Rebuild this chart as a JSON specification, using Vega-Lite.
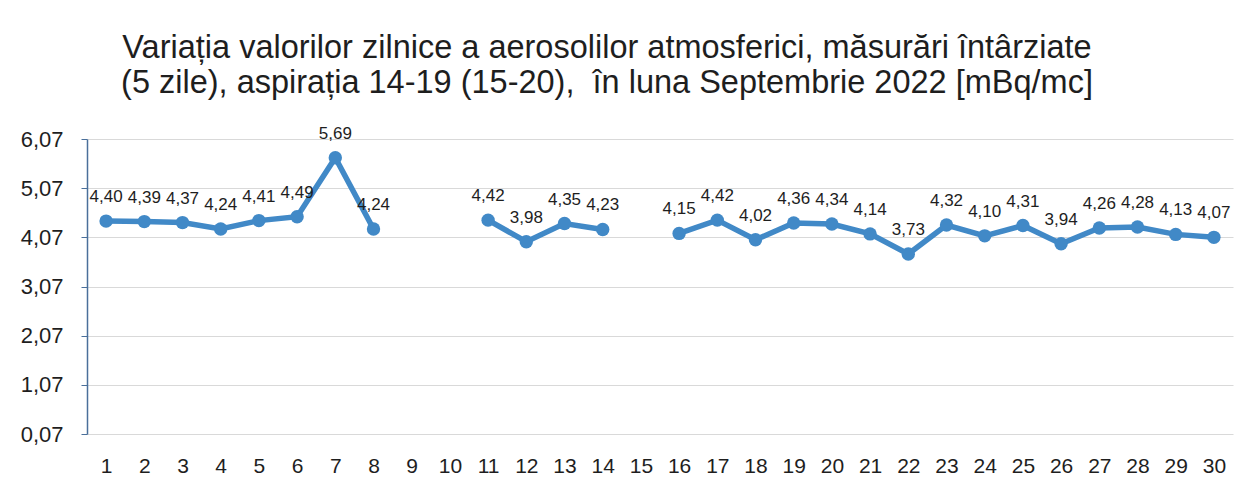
{
  "$schema": "https://vega.github.io/schema/vega-lite/v6.json",
  "width": 1146,
  "height": 295,
  "autosize": {"type": "none"},
  "padding": {"left": 87, "top": 139, "right": 18, "bottom": 58},
  "background": "#ffffff",
  "config": {
    "font": "Liberation Sans",
    "view": {"stroke": null},
    "locale": {"number": {"decimal": ",", "thousands": ".", "grouping": [3], "currency": ["", ""]}}
  },
  "title": {
    "text": ["Variația valorilor zilnice a aerosolilor atmosferici, măsurări întârziate", "(5 zile), aspirația 14-19 (15-20),\u00a0 în luna Septembrie 2022 [mBq/mc]"],
    "anchor": "middle",
    "frame": "group",
    "dx": -53,
    "offset": 25,
    "fontSize": 32.5,
    "fontWeight": "normal",
    "lineHeight": 35,
    "color": "#1e1e1e",
    "font": "Liberation Sans"
  },
  "data": {
    "values": [
      {"zi": 1, "v": 4.40}, {"zi": 2, "v": 4.39}, {"zi": 3, "v": 4.37}, {"zi": 4, "v": 4.24},
      {"zi": 5, "v": 4.41}, {"zi": 6, "v": 4.49}, {"zi": 7, "v": 5.69}, {"zi": 8, "v": 4.24},
      {"zi": 9, "v": null}, {"zi": 10, "v": null}, {"zi": 11, "v": 4.42}, {"zi": 12, "v": 3.98},
      {"zi": 13, "v": 4.35}, {"zi": 14, "v": 4.23}, {"zi": 15, "v": null}, {"zi": 16, "v": 4.15},
      {"zi": 17, "v": 4.42}, {"zi": 18, "v": 4.02}, {"zi": 19, "v": 4.36}, {"zi": 20, "v": 4.34},
      {"zi": 21, "v": 4.14}, {"zi": 22, "v": 3.73}, {"zi": 23, "v": 4.32}, {"zi": 24, "v": 4.10},
      {"zi": 25, "v": 4.31}, {"zi": 26, "v": 3.94}, {"zi": 27, "v": 4.26}, {"zi": 28, "v": 4.28},
      {"zi": 29, "v": 4.13}, {"zi": 30, "v": 4.07}
    ]
  },
  "encoding": {
    "x": {
      "field": "zi", "type": "ordinal",
      "scale": {"domain": [1,2,3,4,5,6,7,8,9,10,11,12,13,14,15,16,17,18,19,20,21,22,23,24,25,26,27,28,29,30], "paddingInner": 0, "paddingOuter": 0},
      "axis": {"title": null, "labelAngle": 0, "labelFontSize": 21, "labelColor": "#1e1e1e", "ticks": false, "domain": false, "labelPadding": 21, "grid": false}
    },
    "y": {
      "field": "v", "type": "quantitative",
      "scale": {"domain": [0.07, 6.07], "nice": false, "zero": false},
      "axis": {"title": null, "values": [0.07, 1.07, 2.07, 3.07, 4.07, 5.07, 6.07], "format": ".2f",
        "labelFontSize": 22, "labelColor": "#1e1e1e", "labelPadding": 18, "tickSize": 6, "tickColor": "#4a6f9a",
        "domainColor": "#4a6f9a", "domainWidth": 1.5, "gridColor": "#d9d9d9", "gridWidth": 1}
    }
  },
  "layer": [
    {"mark": {"type": "line", "color": "#4189c7", "strokeWidth": 5.5, "invalid": "break-paths-show-domains"}},
    {"mark": {"type": "point", "filled": true, "opacity": 1, "color": "#4189c7", "size": 180}},
    {"mark": {"type": "text", "font": "Liberation Sans", "fontSize": 17, "color": "#1e1e1e", "baseline": "alphabetic", "dy": -19}, "encoding": {"text": {"field": "v", "type": "quantitative", "format": ".2f"}}}
  ]
}
